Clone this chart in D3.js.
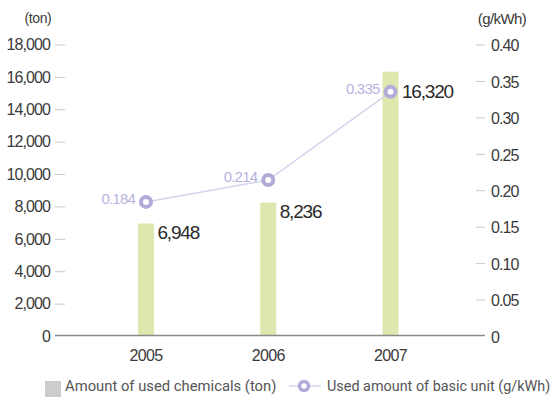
<!DOCTYPE html>
<html><head><meta charset="utf-8">
<script src="https://cdn.jsdelivr.net/npm/d3@7"></script>
<style>
html,body{margin:0;padding:0;background:#fff;}
svg{display:block;}
</style></head>
<body>
<script>
const years = ["2005", "2006", "2007"];
const chemicals = [6948, 8236, 16320];          // ton
const basicUnit = [0.184, 0.214, 0.335];        // g/kWh
const leftTicks = [0, 2000, 4000, 6000, 8000, 10000, 12000, 14000, 16000, 18000];
const rightTicks = [0, 0.05, 0.10, 0.15, 0.20, 0.25, 0.30, 0.35, 0.40];
const leftUnit = "(ton)";
const rightUnit = "(g/kWh)";
const legendBar = "Amount of used chemicals (ton)";
const legendLine = "Used amount of basic unit (g/kWh)";

const W = 554, H = 397;
const svg = d3.select("body").append("svg").attr("width", W).attr("height", H);

const x0 = 55, x1 = 485, yBase = 336, yTop = 44.5;
const x = d3.scalePoint().domain(years).range([146, 390.5]);
const yL = d3.scaleLinear().domain([0, 18000]).range([yBase, yTop]);
const yR = d3.scaleLinear().domain([0, 0.40]).range([yBase, yTop]);

const tickFont = "'Liberation Sans', Arial, sans-serif";
const labCol = "#3a3a3a";

// left axis
const gl = svg.append("g").attr("transform", `translate(${x0},0)`)
  .call(d3.axisRight(yL).tickValues(leftTicks.slice(1)).tickSize(10).tickFormat(""));
gl.select(".domain").remove();
gl.selectAll(".tick line").attr("stroke", "#c8c8c8");
svg.append("g").selectAll("text").data(leftTicks).join("text")
  .attr("x", 50).attr("y", d => yL(d)).attr("dy", "0.36em")
  .attr("text-anchor", "end").attr("font-family", tickFont).attr("font-size", 16)
  .attr("letter-spacing", -0.9).attr("fill", labCol)
  .text(d => d3.format(",")(d));

// right axis
const gr = svg.append("g").attr("transform", `translate(${x1},0)`)
  .call(d3.axisLeft(yR).tickValues(rightTicks.slice(1)).tickSize(9).tickFormat(""));
gr.select(".domain").remove();
gr.selectAll(".tick line").attr("stroke", "#c8c8c8");
svg.append("g").selectAll("text").data(rightTicks).join("text")
  .attr("x", 491).attr("y", d => yR(d) + 1).attr("dy", "0.36em")
  .attr("font-family", tickFont).attr("font-size", 16)
  .attr("letter-spacing", -0.9).attr("fill", labCol)
  .text(d => d === 0 ? "0" : d3.format(".2f")(d));

// unit labels
svg.append("text").attr("x", 38).attr("y", 23).attr("text-anchor", "middle")
  .attr("font-family", tickFont).attr("font-size", 14).attr("letter-spacing", -0.4)
  .attr("fill", labCol).text(leftUnit);
svg.append("text").attr("x", 502).attr("y", 24).attr("text-anchor", "middle")
  .attr("font-family", tickFont).attr("font-size", 15).attr("letter-spacing", -0.6)
  .attr("fill", labCol).text(rightUnit);

// bars
const bw = 16;
svg.append("g").selectAll("rect").data(chemicals).join("rect")
  .attr("x", (d, i) => x(years[i]) - bw / 2).attr("width", bw)
  .attr("y", d => yL(d)).attr("height", d => yBase - yL(d))
  .attr("fill", "#dde8ae");

// baseline
svg.append("line").attr("x1", x0).attr("x2", x1).attr("y1", yBase - 0.5).attr("y2", yBase - 0.5)
  .attr("stroke", "#8a8a8a").attr("stroke-width", 1.6);

// x labels
svg.append("g").selectAll("text").data(years).join("text")
  .attr("x", d => x(d)).attr("y", 361).attr("text-anchor", "middle")
  .attr("font-family", tickFont).attr("font-size", 16).attr("letter-spacing", -0.6)
  .attr("fill", labCol).text(d => d);

// line
const lineCol = "#d6d2ec", markCol = "#b1abd9";
svg.append("path").datum(basicUnit)
  .attr("d", d3.line().x((d, i) => x(years[i])).y(d => yR(d)))
  .attr("fill", "none").attr("stroke", lineCol).attr("stroke-width", 1.5);
svg.append("g").selectAll("circle").data(basicUnit).join("circle")
  .attr("cx", (d, i) => x(years[i])).attr("cy", d => yR(d)).attr("r", 5)
  .attr("fill", "#fff").attr("stroke", markCol).attr("stroke-width", 4);
svg.append("g").selectAll("text").data(basicUnit).join("text")
  .attr("x", (d, i) => x(years[i]) - 11).attr("y", d => yR(d) + 2)
  .attr("text-anchor", "end").attr("font-family", tickFont).attr("font-size", 15)
  .attr("letter-spacing", -0.8).attr("fill", "#b8b3de")
  .text(d => d3.format(".3f")(d));

// bar value labels
svg.append("g").selectAll("text").data(chemicals).join("text")
  .attr("x", (d, i) => x(years[i]) + bw / 2 + 3.5)
  .attr("y", (d, i) => Math.max(yL(d) + 1.5, yR(basicUnit[i]) - 8))
  .attr("dy", "0.72em")
  .attr("font-family", tickFont).attr("font-size", 19).attr("letter-spacing", -1.2)
  .attr("fill", "#2a2a2a").text(d => d3.format(",")(d));

// legend
const legFont = "Roboto, 'Noto Sans', sans-serif";
const lg = svg.append("g");
lg.append("rect").attr("x", 45).attr("y", 381).attr("width", 16).attr("height", 16).attr("fill", "#cccccc");
lg.append("text").attr("x", 65).attr("y", 391).attr("font-family", legFont).attr("font-size", 14.8)
  .attr("fill", "#555").text(legendBar);
lg.append("line").attr("x1", 289).attr("x2", 321).attr("y1", 386).attr("y2", 386)
  .attr("stroke", lineCol).attr("stroke-width", 1.5);
lg.append("circle").attr("cx", 304).attr("cy", 386).attr("r", 4.5)
  .attr("fill", "#fff").attr("stroke", markCol).attr("stroke-width", 3.5);
lg.append("text").attr("x", 327).attr("y", 391).attr("font-family", legFont).attr("font-size", 14.4)
  .attr("fill", "#555").text(legendLine);
</script>
</body></html>
